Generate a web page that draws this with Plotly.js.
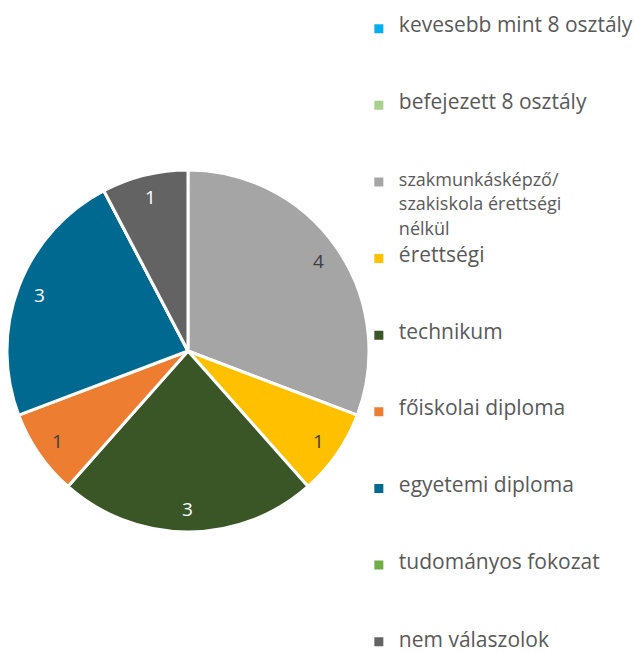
<!DOCTYPE html>
<html>
<head>
<meta charset="utf-8">
<script src="https://cdn.plot.ly/plotly-3.0.1.min.js"></script>
<style>html,body{margin:0;padding:0;background:#fff;}#chart{width:634px;height:653px;}</style>
</head>
<body>
<div id="chart"></div>
<script>
const categories = [
  "kevesebb mint 8 osztály",
  "befejezett 8 osztály",
  "szakmunkásképző/<br>szakiskola érettségi<br>nélkül",
  "érettségi",
  "technikum",
  "főiskolai diploma",
  "egyetemi diploma",
  "tudományos fokozat",
  "nem válaszolok"
];
const values = [0, 0, 4, 1, 3, 1, 3, 0, 1];
const colors = ["#00B0F0", "#A9D18E", "#A5A5A5", "#FFC000", "#3A5526", "#ED7D31", "#00698F", "#70AD47", "#636363"];
const labelColors = ["#404040", "#404040", "#404040", "#404040", "#FFFFFF", "#404040", "#FFFFFF", "#FFFFFF", "#FFFFFF"];

const W = 634, H = 653;
const domX = [0.011, 0.582], domY = [0.185, 0.740];

// Legend entries: real text lines in larger spans, interleaved with blank
// spacer lines (legend base font is small, each entry spans six spacer lines).
const LINES_PER_ENTRY = 6;
const legendNames = categories.map((c, idx) => {
  const parts = c.split("<br>");
  const size = parts.length > 1 ? 18 : 21;
  const out = [];
  parts.forEach((p, k) => {
    if (k > 0) out.push(" ");
    out.push('<span style="font-size:' + size + 'px">' + p + '</span>');
  });
  if (idx < categories.length - 1) {
    while (out.length < LINES_PER_ENTRY) out.push(" ");
  }
  return out.join("<br>");
});

const trace = {
  type: "pie",
  labels: legendNames,
  values: values,
  sort: false,
  direction: "clockwise",
  rotation: 0,
  marker: { colors: colors, line: { color: "#FFFFFF", width: 3 } },
  textinfo: "none",
  hoverinfo: "value",
  domain: { x: domX, y: domY },
  showlegend: true
};

// data labels placed along each slice's bisector (Excel-style "best fit")
const total = values.reduce((a, b) => a + b, 0);
const rPx = Math.min((domX[1] - domX[0]) * W, (domY[1] - domY[0]) * H) / 2;
const cx = (domX[0] + domX[1]) / 2, cy = (domY[0] + domY[1]) / 2;
const annotations = [];
let cum = 0;
values.forEach((v, i) => {
  if (v > 0) {
    const ang = (cum + v / 2) / total * 2 * Math.PI;
    const d = 0.875 * rPx;
    annotations.push({
      xref: "paper", yref: "paper",
      x: cx + d * Math.sin(ang) / W,
      y: cy + d * Math.cos(ang) / H,
      text: String(v),
      showarrow: false,
      xanchor: "center", yanchor: "middle",
      font: { family: "Open Sans, sans-serif", size: 19, color: labelColors[i] }
    });
  }
  cum += v;
});

const layout = {
  width: W,
  height: H,
  margin: { l: 0, r: 0, t: 0, b: 0, autoexpand: false },
  paper_bgcolor: "#FFFFFF",
  showlegend: true,
  annotations: annotations,
  legend: {
    x: 0.566, xanchor: "left",
    y: 0.9755, yanchor: "top",
    valign: "top",
    font: { family: "Open Sans, sans-serif", size: 9.44, color: "#595959" },
    traceorder: "normal",
    bgcolor: "rgba(0,0,0,0)"
  }
};

Plotly.newPlot("chart", [trace], layout, { displayModeBar: false, staticPlot: true });
</script>
</body>
</html>
